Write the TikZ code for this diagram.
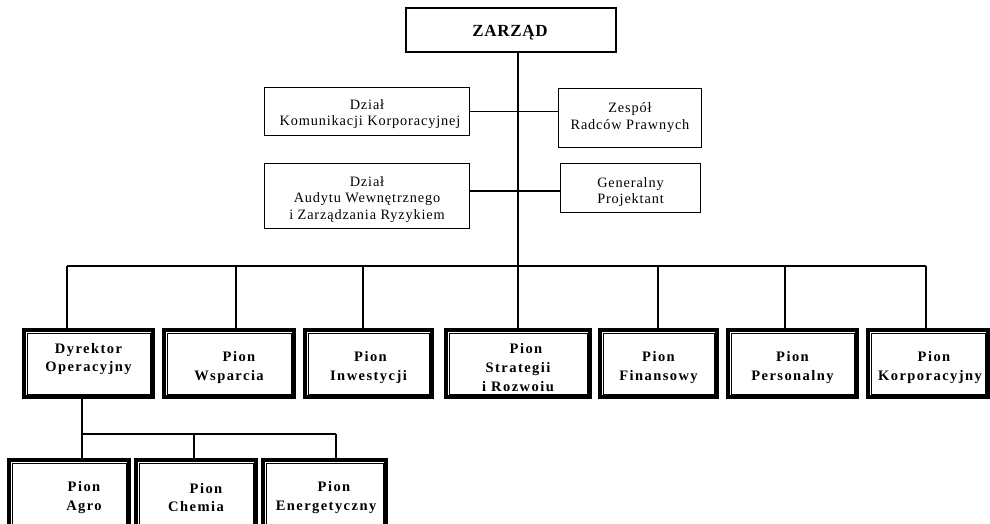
\documentclass[tikz,border=0pt]{standalone}
\usepackage{fontspec}
\setmainfont{Liberation Serif}
\newfontfamily\normfont{Liberation Serif}[LetterSpace=6]
\newfontfamily\boldfont{Liberation Serif}[LetterSpace=10]
\newfontfamily\zfont{Liberation Serif}[LetterSpace=4]
\begin{document}
\begin{tikzpicture}[x=1pt,y=-1pt,
  zarzadbox/.style={draw, line width=2pt, inner sep=0pt},
  ztext/.style={inner sep=0pt, font=\zfont\bfseries\fontsize{17}{20}\selectfont},
  dzialbox/.style={draw, line width=0.9pt, inner sep=0pt},
  dtext/.style={inner sep=0pt, align=center,
    font=\normfont\fontsize{14.3}{16.5}\selectfont},
  pionbox/.style={draw, line width=3.2pt, inner sep=0pt,
    minimum height=67pt,
    path picture={\draw[line width=0.9pt]
      ([shift={(3pt,3pt)}]path picture bounding box.south west) rectangle
      ([shift={(-3pt,-3pt)}]path picture bounding box.north east);}},
  ptext/.style={inner sep=0pt, align=center,
    font=\boldfont\bfseries\fontsize{14.5}{18.8}\selectfont},
  conn/.style={line width=1.2pt}
]
\path[use as bounding box] (0,0) rectangle (990,524);
\clip (0,0) rectangle (990,524);

% top
\node[zarzadbox, minimum width=210pt, minimum height=44pt] (zarzad) at (511,30) {};
\node[ztext] (zarzadt) at (510,33) {ZARZĄD};
\node[dzialbox, minimum width=205pt, minimum height=48pt] (kom) at (367,111.5) {};
\node[dzialbox, minimum width=143pt, minimum height=59pt] (zesp) at (630,118) {};
\node[dzialbox, minimum width=205pt, minimum height=65pt] (aud) at (367,196) {};
\node[dzialbox, minimum width=140pt, minimum height=49pt] (gen) at (630.5,188) {};
\node[dtext] (komt) at (367,114) {Dział\\\hspace*{6pt}Komunikacji Korporacyjnej};
\node[dtext] (zespt) at (630,117.5) {Zespół\\Radców Prawnych};
\node[dtext] (audt) at (367,199.5) {Dział\\Audytu Wewnętrznego\\i Zarządzania Ryzykiem};
\node[dtext] (gent) at (630.5,192) {Generalny\\Projektant};

% main spine and bus
\coordinate (bus) at (518,266);
\coordinate (busL) at (67,266);
\coordinate (busR) at (926,266);
\draw[conn] (zarzad.south -| bus) -- (bus);
\draw[conn] (busL) -- (busR);
\draw[conn] (kom.east) -- (kom.east -| zesp.west);
\draw[conn] ([yshift=5pt]aud.east) -- ([yshift=5pt]aud.east -| gen.west);

% pion boxes
\node[pionbox, minimum width=129pt] (p1) at (88.5,363.5) {};
\node[pionbox, minimum width=130pt] (p2) at (229,363.5) {};
\node[pionbox, minimum width=127pt] (p3) at (368.5,363.5) {};
\node[pionbox, minimum width=144pt] (p4) at (518,363.5) {};
\node[pionbox, minimum width=117pt] (p5) at (658.5,363.5) {};
\node[pionbox, minimum width=129pt] (p6) at (792.5,363.5) {};
\node[pionbox, minimum width=120pt] (p7) at (928,363.5) {};

\node[ptext] (p1t) at (88.5,359) {Dyrektor\\Operacyjny};
\node[ptext] (p2t) at (229,367.5) {\hspace*{20pt}Pion\\Wsparcia};
\node[ptext] (p3t) at (368.5,367.5) {\hspace*{4pt}Pion\\Inwestycji};
\node[ptext] (p4t) at (518,367.5) {\hspace*{16pt}Pion\\Strategii\\i Rozwoiu};
\node[ptext] (p5t) at (658.5,367.5) {Pion\\Finansowy};
\node[ptext] (p6t) at (792.5,367.5) {Pion\\Personalny};
\node[ptext] (p7t) at (930,367.5) {\hspace*{8pt}Pion\\Korporacyjny};

\coordinate (d1) at (67,266);
\coordinate (d2) at (236,266);
\coordinate (d3) at (363,266);
\coordinate (d4) at (518,266);
\coordinate (d5) at (658,266);
\coordinate (d6) at (785,266);
\coordinate (d7) at (926,266);
\foreach \i in {1,...,7}{\draw[conn] (d\i) -- (d\i |- p\i.north);}

% sub level
\coordinate (s0) at (82,434);
\coordinate (s1) at (82,434);
\coordinate (s2) at (194,434);
\coordinate (s3) at (336,434);
\draw[conn] (p1.south -| s0) -- (s0);
\draw[conn] (s1) -- (s3);

\node[pionbox, minimum width=120pt] (a1) at (69,493.5) {};
\node[pionbox, minimum width=120pt] (a2) at (196,493.5) {};
\node[pionbox, minimum width=123pt] (a3) at (324.5,493.5) {};
\node[ptext] (a1t) at (84,497.5) {Pion\\Agro};
\node[ptext] (a2t) at (196,497.5) {\hspace*{20pt}Pion\\Chemia};
\node[ptext] (a3t) at (326,497.5) {\hspace*{16pt}Pion\\Energetyczny};
\foreach \i in {1,2,3}{\draw[conn] (s\i) -- (s\i |- a\i.north);}
\end{tikzpicture}
\end{document}
